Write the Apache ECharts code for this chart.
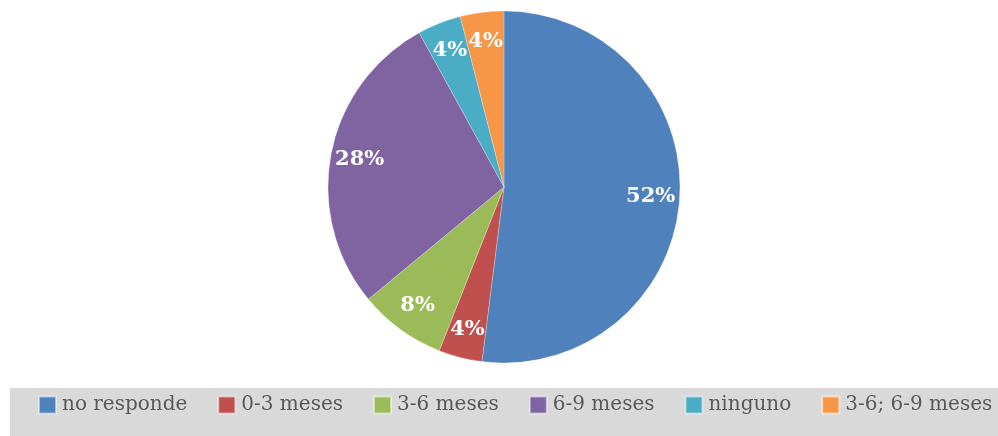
<!DOCTYPE html>
<html><head><meta charset="utf-8">
<script src="https://cdn.jsdelivr.net/npm/echarts@6/dist/echarts.min.js"></script>
<style>html,body{margin:0;padding:0;background:#fff}#c{width:998px;height:436px}</style>
</head><body><div id="c"></div>
<script>
const categories = ['no responde', '0-3 meses', '3-6 meses', '6-9 meses', 'ninguno', '3-6; 6-9 meses'];
const values = [52, 4, 8, 28, 4, 4];
const colors = ['#4f81bd', '#c0504d', '#9bbb59', '#8064a2', '#4bacc6', '#f79646'];

const data = categories.map((n, i) => ({ name: n, value: values[i] }));
const chart = echarts.init(document.getElementById('c'));
const font = 'DejaVu Serif';
chart.setOption({
  animation: false,
  color: colors,
  graphic: [{ type: 'rect', left: 10, top: 388, shape: { width: 1000, height: 60 }, style: { fill: '#d9d9d9' }, z: -1 }],
  legend: {
    left: 33, top: 390, itemWidth: 17, itemHeight: 17, itemGap: 30, icon: 'rect',
    textStyle: { fontFamily: font, fontSize: 20, color: '#595959', padding: [0, 0, 0, 1] },
    data: categories
  },
  series: [{
    type: 'pie', center: [504, 187], radius: [0, 176], startAngle: 90, clockwise: true,
    label: { show: false }, labelLine: { show: false },
    itemStyle: { borderColor: 'rgba(255,255,255,0.5)', borderWidth: 0.5 },
    data: data
  }, {
    type: 'pie', center: [504, 187], radius: [100, 188], startAngle: 90, clockwise: true, silent: true,
    legendHoverLink: false,
    itemStyle: { color: 'rgba(0,0,0,0)' },
    label: { show: true, position: 'inside', formatter: '{c}%', fontFamily: font, fontWeight: 'bold', fontSize: 21, color: '#fff' },
    labelLine: { show: false },
    data: data
  }]
});
</script></body></html>
